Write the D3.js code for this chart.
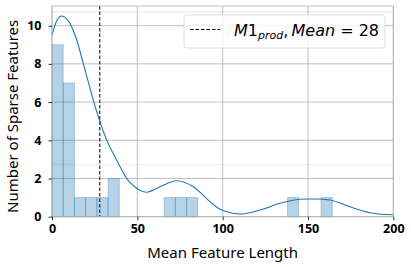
<!DOCTYPE html>
<html><head><meta charset="utf-8">
<script src="https://cdn.jsdelivr.net/npm/d3@7"></script>
<style>body{margin:0;background:#fff}svg{display:block}</style>
</head><body>
<svg id="c" width="411" height="267"></svg>
<script>
// ---- data ----
const binStart = 0;
const binWidth = 6.57;
const binCounts = [9,7,1,1,1,2,0,0,0,0,1,1,1,0,0,0,0,0,0,0,0,1,0,0,1];
const kdeX = [0,3,5.7,10.5,14.5,18.3,22.3,25.2,27.7,32,37.9,43.8,45.7,51.2,55.5,63.3,73.1,82.8,92.6,98.4,102.4,110.2,121.9,133.6,145.3,151.2,155.1,162.9,174.6,186.3,199,200];
const kdeY = [9.51,10.3,10.51,10.12,9.25,8.03,6.72,5.8,5.08,4.02,2.97,2.01,1.80,1.40,1.28,1.57,1.88,1.57,0.79,0.39,0.26,0.14,0.35,0.70,0.91,0.93,0.93,0.87,0.52,0.21,0.1,0.1];
const meanValue = 28;
const xTicks = [0,50,100,150,200];
const yTicks = [0,2,4,6,8,10];
const faintGrid = [2.73,10.73];
const xDomain = [0,200];
const yDomain = [0,11.03];

// ---- layout ----
const svg = d3.select("#c");
const L=52, R=393.3, T=6, B=216.7;
const x = d3.scaleLinear().domain(xDomain).range([L,R]);
const y = d3.scaleLinear().domain(yDomain).range([B,T]);
const font = "'Noto Sans', 'Open Sans', sans-serif";

// faint secondary grid
svg.append("g").selectAll("line").data(faintGrid).join("line")
  .attr("x1",L).attr("x2",R).attr("y1",d=>y(d)).attr("y2",d=>y(d))
  .attr("stroke","#f0f0f0").attr("stroke-width",1.5);

// grid
svg.append("g").selectAll("line").data(yTicks).join("line")
  .attr("x1",L).attr("x2",R).attr("y1",d=>y(d)).attr("y2",d=>y(d))
  .attr("stroke","#b0b0b0").attr("stroke-width",0.8);
svg.append("g").selectAll("line").data(xTicks).join("line")
  .attr("y1",T).attr("y2",B).attr("x1",d=>x(d)).attr("x2",d=>x(d))
  .attr("stroke","#b0b0b0").attr("stroke-width",0.8);

// bars
const bins = binCounts.map((c,i)=>({x0:binStart+i*binWidth, x1:binStart+(i+1)*binWidth, c}));
svg.append("g").selectAll("rect").data(bins.filter(d=>d.c>0)).join("rect")
  .attr("x",d=>x(d.x0)).attr("width",d=>x(d.x1)-x(d.x0))
  .attr("y",d=>y(d.c)).attr("height",d=>y(0)-y(d.c))
  .attr("fill","#1f77b4").attr("fill-opacity",0.33)
  .attr("stroke","#1f77b4").attr("stroke-opacity",0.3).attr("stroke-width",1);

// kde
const line = d3.line().x((d,i)=>x(kdeX[i])).y(d=>y(d)).curve(d3.curveMonotoneX);
svg.append("path").datum(kdeY).attr("d",line)
  .attr("fill","none").attr("stroke","#1f77b4").attr("stroke-width",1.1);

// mean line
svg.append("line").attr("x1",x(meanValue)).attr("x2",x(meanValue)).attr("y1",T).attr("y2",B)
  .attr("stroke","#000").attr("stroke-width",1).attr("stroke-dasharray","3.5,2");

// frame
svg.append("rect").attr("x",L).attr("y",T).attr("width",R-L).attr("height",B-T)
  .attr("fill","none").attr("stroke","#b0b0b0").attr("stroke-width",0.8);

// axes
const xa = svg.append("g").attr("transform",`translate(0,${B})`)
  .call(d3.axisBottom(x).tickValues(xTicks).tickSize(3.5).tickPadding(4).tickFormat(d3.format("d")));
const ya = svg.append("g").attr("transform",`translate(${L},0)`)
  .call(d3.axisLeft(y).tickValues(yTicks).tickSize(3.5).tickPadding(7).tickFormat(d3.format("d")));
[xa,ya].forEach(a=>{
  a.select(".domain").remove();
  a.selectAll(".tick line").attr("stroke","#000").attr("stroke-width",0.8);
  a.selectAll("text").attr("font-family",font).attr("font-weight","bold").attr("font-size","12.5px").attr("fill","#000");
});

// axis labels
svg.append("text").attr("x",(L+R)/2).attr("y",258).attr("text-anchor","middle")
  .attr("font-family",font).attr("font-size","15px").attr("fill","#000").text("Mean Feature Length");
svg.append("text").attr("transform",`translate(18,${(T+B)/2 + 5}) rotate(-90)`).attr("text-anchor","middle")
  .attr("font-family",font).attr("font-size","15px").attr("fill","#000").text("Number of Sparse Features");

// legend
const lg = svg.append("g");
lg.append("rect").attr("x",184).attr("y",15).attr("width",201).attr("height",33).attr("rx",3)
  .attr("fill","#fff").attr("fill-opacity",0.8).attr("stroke","#d6d6d6").attr("stroke-width",0.8);
lg.append("line").attr("x1",190).attr("x2",220).attr("y1",29.5).attr("y2",29.5)
  .attr("stroke","#000").attr("stroke-width",1).attr("stroke-dasharray","3.5,2");
const t = lg.append("text").attr("x",234).attr("y",36).attr("font-family","'DejaVu Sans', sans-serif")
  .attr("font-size","16px").attr("fill","#000");
t.append("tspan").attr("font-style","italic").text("M");
t.append("tspan").text("1");
t.append("tspan").attr("font-style","italic").attr("font-size","11px").attr("dy",3).text("prod");
t.append("tspan").attr("dy",-3).text(",\u2009");
t.append("tspan").attr("font-style","italic").text("Mean");
t.append("tspan").text(" = " + meanValue);
</script>
</body></html>
